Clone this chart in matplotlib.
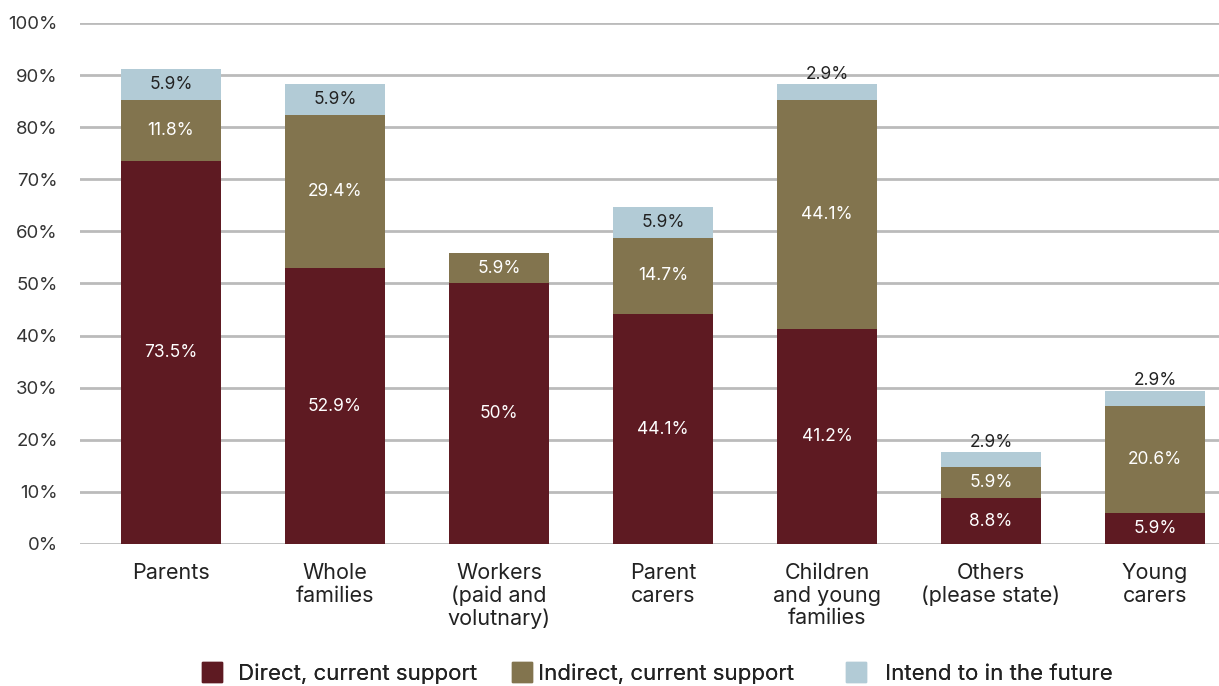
import numpy as np
import matplotlib as mpl
mpl.use('Agg')
import matplotlib.pyplot as plt
from matplotlib.patches import Patch

categories = ['Parents', 'Whole\nfamilies', 'Workers\n(paid and\nvolutnary)', 'Parent\ncarers',
              'Children\nand young\nfamilies', 'Others\n(please state)', 'Young\ncarers']
direct = [73.5, 52.9, 50.0, 44.1, 41.2, 8.8, 5.9]
indirect = [11.8, 29.4, 5.9, 14.7, 44.1, 5.9, 20.6]
future = [5.9, 5.9, 0.0, 5.9, 2.9, 2.9, 2.9]
series_names = ['Direct, current support', 'Indirect, current support', 'Intend to in the future']

colors = ['#5e1a22', '#82744e', '#b2cbd6']

plt.rcParams['font.family'] = ['Inter', 'DejaVu Sans']

fig = plt.figure(figsize=(12.19, 6.86), dpi=100)
ax = fig.add_axes([0.0656, 0.207, 0.9344, 0.7595])

x = np.arange(len(categories))
w = 0.61
d = np.array(direct)
i_ = np.array(indirect)
f = np.array(future)

ax.bar(x, d, w, color=colors[0], zorder=3)
ax.bar(x, i_, w, bottom=d, color=colors[1], zorder=3)
ax.bar(x, f, w, bottom=d + i_, color=colors[2], zorder=3)

def fmt(v):
    return f"{v:g}%"

lab_fs = 12.5
for k in range(len(x)):
    ax.text(x[k], d[k] / 2, fmt(d[k]), ha='center', va='center', color='white', fontsize=lab_fs, zorder=4)
    ax.text(x[k], d[k] + i_[k] / 2, fmt(i_[k]), ha='center', va='center', color='white', fontsize=lab_fs, zorder=4)
    if f[k] == 0:
        continue
    top = d[k] + i_[k]
    if f[k] < 4:
        # small segment: label goes above the bar
        ax.text(x[k], top + f[k] + 0.3, fmt(f[k]), ha='center', va='bottom', color='#222222', fontsize=lab_fs, zorder=4)
    else:
        ax.text(x[k], top + f[k] / 2, fmt(f[k]), ha='center', va='center', color='#222222', fontsize=lab_fs, zorder=4)

ax.set_ylim(0, 100)
ax.set_xlim(-0.555, 6.39)
ax.set_yticks(np.arange(0, 101, 10))
ax.set_yticklabels([f"{t}%" for t in range(0, 101, 10)], fontsize=13.4, color='#333333')
ax.set_xticks(x)
ax.set_xticklabels(categories, fontsize=15.5, color='#222222', linespacing=1.15)
ax.tick_params(length=0)
ax.tick_params(axis='x', pad=14)
ax.tick_params(axis='y', pad=16)
ax.grid(axis='y', color='#bbbbbb', linewidth=2, zorder=0)
for s in ax.spines.values():
    s.set_visible(False)

# legend entries sit at uneven spacing in the reference, so place each one
leg_x = [0.1657, 0.42, 0.694]
leg_pad = [0.7, 0.25, 0.85]
for c, name, lx, tp in zip(colors, series_names, leg_x, leg_pad):
    lg = fig.legend([Patch(color=c)], [name], loc='center left', bbox_to_anchor=(lx, 0.019),
                    frameon=False, fontsize=16, handlelength=0.9, handleheight=1.0,
                    handletextpad=tp, borderpad=0, borderaxespad=0, labelcolor='#222222')
    fig.add_artist(lg)

fig.savefig('out.png', dpi=100)
